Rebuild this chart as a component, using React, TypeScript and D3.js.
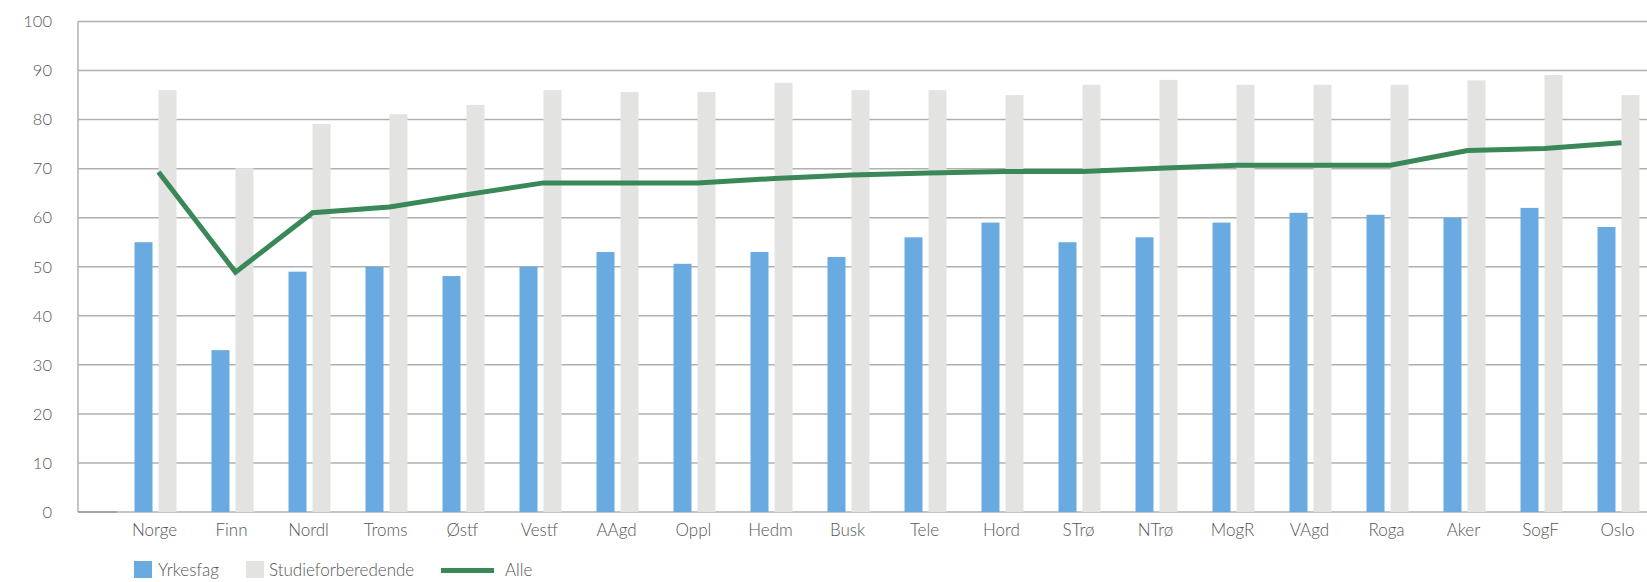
import React from "react";
import * as d3 from "d3";

const categories = ["Norge","Finn","Nordl","Troms","Østf","Vestf","AAgd","Oppl","Hedm","Busk","Tele","Hord","STrø","NTrø","MogR","VAgd","Roga","Aker","SogF","Oslo"];
const yrkesfag = [55, 33, 49, 50, 48.1, 50, 53, 50.6, 53, 52, 56, 59, 55, 56, 59, 61, 60.6, 60, 62, 58.1];
const studie = [86, 70.1, 79.1, 81.1, 83, 86, 85.6, 85.6, 87.5, 86, 86, 85, 87.1, 88.1, 87.1, 87.1, 87.1, 88, 89.1, 85];
const alle = [69.3, 48.9, 61, 62.2, 64.7, 67.1, 67.1, 67.1, 68, 68.7, 69.1, 69.4, 69.4, 70.1, 70.7, 70.7, 70.7, 73.7, 74.1, 75.3];
const yTicks = [0, 10, 20, 30, 40, 50, 60, 70, 80, 90, 100];
const seriesNames = ["Yrkesfag", "Studieforberedende", "Alle"];

const W = 1647, H = 582;
const BLUE = "#69abe0", GREY = "#e3e3e2", GREEN = "#3a8858", GRID = "#b0b0b0", TEXT = "#555555";
const FONT = "Lato, 'Open Sans', sans-serif";

export default function App() {
  const plotLeft = 78, plotRight = W;
  const y = d3.scaleLinear().domain([0, 100]).range([512, 21.5]);
  const x = d3.scaleBand<string>().domain(categories).range([117, 117 + 77 * categories.length]);
  const bw = x.bandwidth();
  const barW = 18, gap = 6;
  const cx = (c: string) => (x(c) as number) + bw / 2;
  const line = d3.line<number>()
    .x((_, i) => cx(categories[i]) + gap / 2)
    .y((v) => y(v));

  return (
    <svg width={W} height={H} style={{ position: "absolute", left: 0, top: 0, background: "#fff" }} fontFamily={FONT}>
      {yTicks.map((t) => (
        <g key={t}>
          <line x1={plotLeft} x2={plotRight} y1={y(t)} y2={y(t)} stroke={GRID} strokeWidth={1.5} />
          <text x={52} y={y(t)} dy="0.35em" textAnchor="end" fontSize={16.5} fontWeight={300} fill={TEXT}>{t}</text>
        </g>
      ))}
      <line x1={plotLeft} x2={plotLeft} y1={y(100)} y2={y(0)} stroke={GRID} strokeWidth={1.5} />
      <line x1={plotLeft} x2={117} y1={y(0)} y2={y(0)} stroke="#9a9a9a" strokeWidth={1.5} />
      {categories.map((c, i) => (
        <g key={c}>
          <rect x={cx(c) - gap / 2 - barW} y={y(yrkesfag[i])} width={barW} height={y(0) - y(yrkesfag[i])} fill={BLUE} />
          <rect x={cx(c) + gap / 2} y={y(studie[i])} width={barW} height={y(0) - y(studie[i])} fill={GREY} />
          <text x={cx(c) - 1} y={536} textAnchor="middle" fontSize={17} fontWeight={300} fill={TEXT}>{c}</text>
        </g>
      ))}
      <path d={line(alle) || ""} fill="none" stroke={GREEN} strokeWidth={5} strokeLinejoin="miter" strokeMiterlimit={10} />
      <g>
        <rect x={134} y={561} width={18} height={17} fill={BLUE} />
        <text x={158} y={576} fontSize={17} fontWeight={300} fill={TEXT}>{seriesNames[0]}</text>
        <rect x={246} y={561} width={18} height={17} fill={GREY} />
        <text x={269} y={576} fontSize={17} fontWeight={300} fill={TEXT}>{seriesNames[1]}</text>
        <line x1={441} x2={494} y1={570.5} y2={570.5} stroke={GREEN} strokeWidth={5} />
        <text x={505} y={576} fontSize={17} fontWeight={300} fill={TEXT}>{seriesNames[2]}</text>
      </g>
    </svg>
  );
}
